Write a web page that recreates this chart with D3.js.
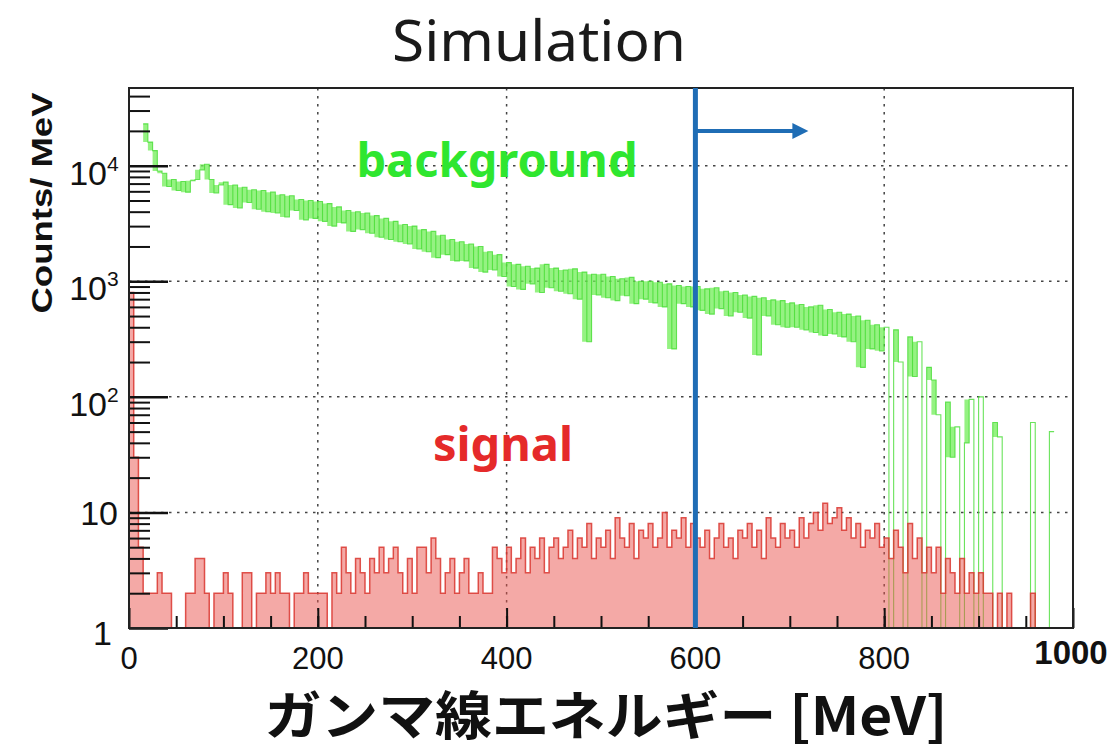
<!DOCTYPE html>
<html>
<head>
<meta charset="utf-8">
<script src="https://cdn.jsdelivr.net/npm/d3@7"></script>
<style>
  body { margin: 0; background: #fff; }
  svg { display: block; }
</style>
</head>
<body>
<svg id="chart"></svg>
<script>
const width = 1115,
  height = 751

// histogram bins, 5 MeV wide, values in counts / MeV
const binWidth = 5
const xTicks = [0, 200, 400, 600, 800, 1000]
const yDecades = [1, 10, 100, 1000, 10000]
const cutEnergy = 600

const bgCounts = [
  null, null, null, 23000, 16000, 13500, 9000, 8600, 6600, 7600,
  6100, 7300, 5900, 7400, 7600, 9200, 10300, 7600, 5800, 6800,
  7200, 4600, 6800, 4300, 6500, 4800, 6200, 4200, 6100, 4000,
  5900, 3900, 5600, 3600, 5500, 4100, 5100, 3400, 5000, 3500,
  4900, 3300, 4700, 3000, 4400, 3200, 4100, 2700, 4000, 2800,
  3900, 2600, 3700, 2400, 3500, 2300, 3300, 2200, 3100, 2100,
  3000, 1900, 2800, 1800, 2700, 1600, 2500, 1700, 2300, 1500,
  2200, 1500, 2100, 1300, 2000, 1200, 1800, 1250, 1700, 1100,
  1450, 900, 1400, 850, 1350, 950, 1300, 800, 1400, 880,
  1300, 820, 1250, 780, 1280, 700, 1200, 300, 1150, 760,
  1150, 720, 1100, 680, 1050, 750, 1080, 640, 1000, 700,
  1000, 650, 980, 600, 950, 260, 920, 640, 900, 600,
  900, 560, 860, 520, 880, 580, 820, 500, 800, 540,
  760, 480, 740, 230, 720, 500, 690, 420, 680, 400,
  650, 400, 630, 380, 600, 360, 620, 340, 570, 350,
  540, 330, 520, 300, 500, 180, 460, 260, 420, 250,
  400, 0, 380, 200, 0, 330, 150, 300, 0, 180,
  140, 70, 0, 90, 30, 55, 0, 40, 95, 0,
  100, 0, 0, 60, 45, 0, 0, 0, 0, 0,
  0, 60, 0, 0, 0, 50, null, null, null, null
]

const sigCounts = [
  800, 30, 5, 2, 2, 2, 3, 2, 2, 0,
  0, 0, 2, 2, 4, 4, 2, 0, 2, 2,
  3, 2, 0, 0, 3, 3, 0, 2, 2, 3,
  2, 3, 2, 2, 0, 2, 2, 3, 2, 2,
  2, 2, 0, 3, 2, 5, 3, 2, 4, 3,
  2, 4, 3, 5, 3, 4, 5, 3, 2, 4,
  2, 5, 5, 3, 6, 4, 2, 3, 4, 2,
  3, 4, 2, 2, 3, 2, 2, 5, 4, 3,
  5, 3, 4, 6, 3, 5, 4, 6, 3, 5,
  6, 4, 5, 7, 4, 6, 5, 8, 4, 6,
  5, 7, 4, 9, 6, 5, 8, 4, 7, 6,
  8, 5, 6, 10, 5, 7, 6, 9, 5, 8,
  6, 5, 7, 4, 6, 8, 5, 6, 4, 7,
  6, 8, 5, 7, 4, 9, 6, 5, 8, 6,
  7, 5, 9, 6, 8, 10, 7, 12, 8, 9,
  11, 7, 9, 6, 8, 5, 7, 6, 8, 5,
  6, 4, 7, 5, 3, 8, 4, 6, 3, 5,
  3, 5, 2, 4, 3, 2, 4, 2, 3, 2,
  3, 2, 2, 0, 2, 1, 2, 0, 0, 0,
  0, 2, 0, 0, 0, 0, 0, 0, 0, 0
]

const margin = { top: 88, right: 42, bottom: 123, left: 129 }
const innerW = width - margin.left - margin.right
const innerH = height - margin.top - margin.bottom

const svg = d3.select("#chart").attr("width", width).attr("height", height)

const x = d3.scaleLinear().domain([0, 1000]).range([margin.left, margin.left + innerW])
const y = d3.scaleLog().domain([1, 47000]).range([margin.top + innerH, margin.top])

svg.append("clipPath").attr("id", "plot")
  .append("rect")
  .attr("x", margin.left).attr("y", margin.top)
  .attr("width", innerW).attr("height", innerH)

// grid
const grid = svg.append("g").attr("stroke", "#444").attr("stroke-width", 1.5)
  .attr("stroke-dasharray", "2.5,5.5")
grid.selectAll(".gy").data(yDecades.slice(1)).join("line")
  .attr("x1", margin.left).attr("x2", margin.left + innerW)
  .attr("y1", d => y(d)).attr("y2", d => y(d))
grid.selectAll(".gx").data(xTicks.slice(1, -1)).join("line")
  .attr("y1", margin.top).attr("y2", margin.top + innerH)
  .attr("x1", d => x(d)).attr("x2", d => x(d))

// histograms as steps
const stepPoints = vals => vals.flatMap((v, i) => [
  { e: i * binWidth, v }, { e: (i + 1) * binWidth, v }
])
const line = d3.line()
  .defined(d => d.v != null)
  .x(d => x(d.e))
  .y(d => y(Math.max(d.v, 1)))
const area = d3.area()
  .defined(d => d.v != null)
  .x(d => x(d.e))
  .y0(y(1))
  .y1(d => y(Math.max(d.v, 1)))

// spread between a bin and the next one, drawn as a band under the background steps
const bgBand = bgCounts.flatMap((v, i) => {
  const near = bgCounts.slice(i, i + 2).filter(n => n > 0)
  const ok = v > 0 && near.length > 0
  const lo = ok ? d3.min(near) : null, hi = ok ? d3.max(near) : null
  return [{ e: i * binWidth, lo, hi }, { e: (i + 1) * binWidth, lo, hi }]
})
const band = d3.area()
  .defined(d => d.lo != null)
  .x(d => x(d.e))
  .y0(d => y(d.lo))
  .y1(d => y(d.hi))

const plot = svg.append("g").attr("clip-path", "url(#plot)")

plot.append("path")
  .attr("d", band(bgBand))
  .attr("fill", "#72ee58")
  .attr("opacity", 0.75)
plot.append("path")
  .attr("d", line(stepPoints(bgCounts)))
  .attr("fill", "none")
  .attr("stroke", "#45dc32")
  .attr("stroke-width", 1.1)
  .attr("opacity", 0.8)

plot.append("path")
  .attr("d", area(stepPoints(sigCounts)))
  .attr("fill", "#e9534d")
  .attr("opacity", 0.5)
plot.append("path")
  .attr("d", line(stepPoints(sigCounts)))
  .attr("fill", "none")
  .attr("stroke", "#d9362f")
  .attr("stroke-width", 1.5)
  .attr("opacity", 0.85)

// y ticks (log minor + major)
const minorY = []
yDecades.forEach(d => { for (let k = 2; k <= 9; k++) if (d * k <= 47000) minorY.push(d * k) })
svg.append("g").attr("transform", `translate(${margin.left},0)`)
  .call(d3.axisRight(y).tickValues(minorY).tickSize(21).tickFormat(""))
  .call(g => g.select(".domain").remove())
  .selectAll("line").attr("stroke", "#111").attr("stroke-width", 2)
svg.append("g").attr("transform", `translate(${margin.left},0)`)
  .call(d3.axisRight(y).tickValues(yDecades).tickSize(39).tickFormat(""))
  .call(g => g.select(".domain").remove())
  .selectAll("line").attr("stroke", "#111").attr("stroke-width", 2.5)

// x ticks
svg.append("g").attr("transform", `translate(0,${margin.top + innerH})`)
  .call(d3.axisTop(x).tickValues(d3.range(50, 1000, 50)).tickSize(12).tickFormat(""))
  .call(g => g.select(".domain").remove())
  .selectAll("line").attr("stroke", "#111").attr("stroke-width", 2)
svg.append("g").attr("transform", `translate(0,${margin.top + innerH})`)
  .call(d3.axisTop(x).tickValues(xTicks).tickSize(20).tickFormat(""))
  .call(g => g.select(".domain").remove())
  .selectAll("line").attr("stroke", "#111").attr("stroke-width", 2)

// frame
svg.append("rect")
  .attr("x", margin.left).attr("y", margin.top)
  .attr("width", innerW).attr("height", innerH)
  .attr("fill", "none").attr("stroke", "#222").attr("stroke-width", 2)

// y tick labels
const yl = svg.append("g").attr("font-family", "'Liberation Sans', Arial, sans-serif").attr("fill", "#111")
yDecades.forEach(d => {
  const p = Math.round(Math.log10(d))
  if (p === 0) {
    yl.append("text").attr("x", 112).attr("y", y(d) + 17).attr("text-anchor", "end")
      .attr("font-size", 34).text("1")
  } else if (p === 1) {
    yl.append("text").attr("x", 118).attr("y", y(d) + 13).attr("text-anchor", "end")
      .attr("font-size", 34).text("10")
  } else {
    yl.append("text").attr("x", 107).attr("y", y(d) + 19).attr("text-anchor", "end")
      .attr("font-size", 34).text("10")
    yl.append("text").attr("x", 107).attr("y", y(d) + 5).attr("text-anchor", "start")
      .attr("font-size", 21).text(p)
  }
})

// x tick labels
const xl = svg.append("g").attr("font-family", "'Liberation Sans', Arial, sans-serif").attr("fill", "#111")
xTicks.forEach(d => {
  const last = d === 1000
  xl.append("text")
    .attr("x", last ? x(d) - 2 : x(d))
    .attr("y", last ? 664 : 669)
    .attr("text-anchor", "middle")
    .attr("font-size", last ? 33 : 31)
    .attr("font-weight", last ? "bold" : "normal")
    .text(d)
})

// axis titles
svg.append("text")
  .attr("transform", "translate(52,203) rotate(-90)")
  .attr("text-anchor", "middle")
  .attr("font-family", "'Liberation Sans', Arial, sans-serif")
  .attr("font-weight", "bold").attr("font-size", 30).attr("fill", "#111")
  .attr("textLength", 221).attr("lengthAdjust", "spacingAndGlyphs")
  .text("Counts/ MeV")

svg.append("text")
  .attr("x", 606).attr("y", 735)
  .attr("text-anchor", "middle")
  .attr("font-family", "'Noto Sans CJK JP', sans-serif")
  .attr("font-weight", "bold").attr("font-size", 52).attr("fill", "#111")
  .attr("textLength", 683).attr("lengthAdjust", "spacingAndGlyphs")
  .text("ガンマ線エネルギー [MeV]")

svg.append("text")
  .attr("x", 539).attr("y", 61)
  .attr("text-anchor", "middle")
  .attr("font-family", "'Noto Sans', sans-serif")
  .attr("font-size", 57).attr("fill", "#1a1a1a")
  .attr("textLength", 294).attr("lengthAdjust", "spacingAndGlyphs")
  .text("Simulation")

// annotations
svg.append("text")
  .attr("x", 497).attr("y", 177)
  .attr("text-anchor", "middle")
  .attr("font-family", "'Noto Sans', sans-serif")
  .attr("font-weight", "bold").attr("font-size", 47).attr("fill", "#2fe62f")
  .text("background")
svg.append("text")
  .attr("x", 503).attr("y", 461)
  .attr("text-anchor", "middle")
  .attr("font-family", "'Noto Sans', sans-serif")
  .attr("font-weight", "bold").attr("font-size", 47).attr("fill", "#e52a2a")
  .text("signal")

// energy cut
const blue = "#1f6db5"
svg.append("line")
  .attr("x1", x(cutEnergy)).attr("x2", x(cutEnergy))
  .attr("y1", margin.top).attr("y2", margin.top + innerH)
  .attr("stroke", blue).attr("stroke-width", 5)
const ay = 131
svg.append("line")
  .attr("x1", x(cutEnergy)).attr("x2", x(cutEnergy) + 100)
  .attr("y1", ay).attr("y2", ay)
  .attr("stroke", blue).attr("stroke-width", 4)
svg.append("path")
  .attr("d", `M${x(cutEnergy) + 113},${ay} L${x(cutEnergy) + 97},${ay - 8} L${x(cutEnergy) + 97},${ay + 8} Z`)
  .attr("fill", blue)
</script>
</body>
</html>
